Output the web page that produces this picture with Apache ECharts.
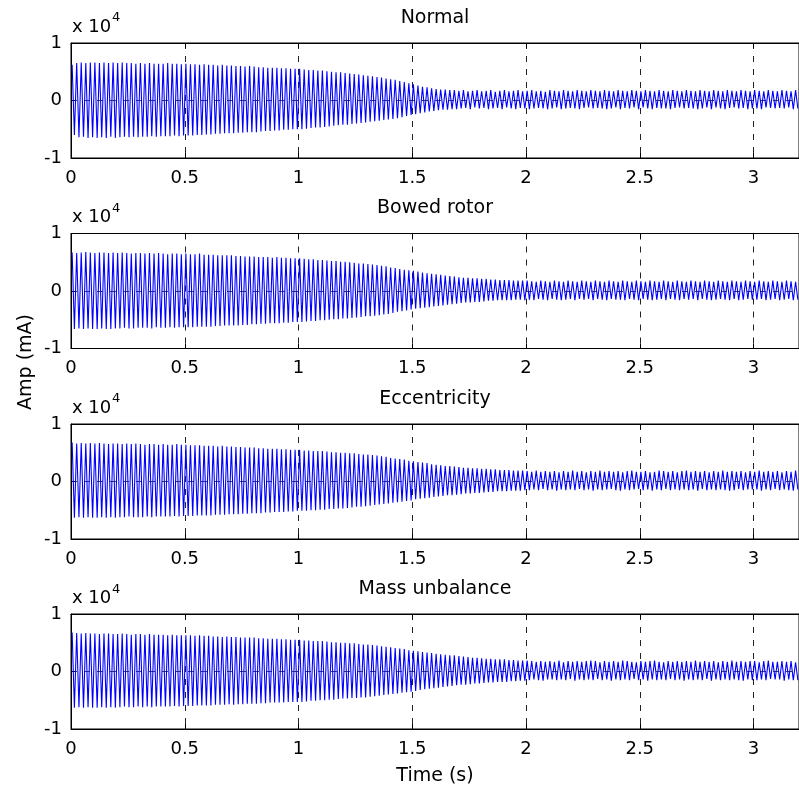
<!DOCTYPE html>
<html>
<head>
<meta charset="utf-8">
<script src="https://cdn.jsdelivr.net/npm/echarts@6/dist/echarts.min.js"></script>
<style>html,body{margin:0;padding:0;background:#fff;}#c{width:799px;height:794px;}</style>
</head>
<body>
<div id="c"></div>
<script>
// Panel titles and axes
const panelTitles = ['Normal', 'Bowed rotor', 'Eccentricity', 'Mass unbalance'];
const xTickLabels = [0, 0.5, 1, 1.5, 2, 2.5, 3];
const yTickLabels = [-1, 0, 1];
const sampleStep = 0.01; // seconds between successive (alternating) peaks
// Peak values, in units of 100 mA (i.e. 0.01 x 10^4 mA)
const normal = [
62,-60,65,-64,66,-63,65,-65,66,-64, 66,-65,65,-64,66,-65,65,-63,66,-65,
65,-64,66,-63,65,-64,65,-63,64,-64, 65,-63,64,-63,65,-62,64,-63,64,-62,
64,-62,65,-62,64,-61,64,-62,63,-61, 64,-61,63,-61,63,-60,62,-60,63,-59,
62,-59,62,-58,61,-58,62,-57,61,-57, 61,-57,60,-56,60,-56,59,-55,60,-55,
59,-55,58,-54,58,-53,57,-53,57,-52, 57,-52,56,-51,56,-51,55,-50,55,-50,
55,-50,54,-49,53,-48,53,-47,52,-47, 52,-46,51,-45,50,-44,49,-43,49,-42,
48,-42,47,-41,46,-40,45,-39,44,-38, 43,-37,42,-36,41,-35,40,-34,38,-33,
37,-32,36,-31,34,-29,32,-27,30,-25, 28,-24,26,-22,24,-21,23,-19,21,-18,
20,-17,19,-16,19,-16,18,-15,18,-15, 17,-14,18,-13,16,-15,17,-12,18,-14,
16,-13,17,-15,18,-14,15,-13,17,-15, 18,-12,16,-14,17,-15,18,-13,16,-14,
17,-15,18,-14,16,-13,17,-14,15,-15, 18,-14,17,-12,16,-15,18,-14,17,-13,
16,-14,18,-15,17,-13,16,-12,18,-14, 17,-13,16,-14,18,-15,17,-14,16,-12,
18,-15,17,-13,16,-14,18,-12,17,-15, 16,-12,18,-14,17,-15,16,-13,18,-14,
17,-14,16,-15,18,-13,17,-12,16,-14, 18,-13,17,-14,16,-15,18,-14,17,-12,
16,-15,18,-12,17,-14,16,-15,18,-13, 17,-12,16,-14,18,-13,17,-15,16,-14,
18,-14,17,-15,16,-12,18,-13,17,-14, 16,-13,18,-14,17,-12,16,-15,18,-14
];
const bowedRotor = [
67,-66,66,-65,67,-66,68,-65,67,-66, 66,-66,67,-65,67,-66,66,-66,67,-65,
66,-65,67,-64,66,-65,65,-65,66,-64, 66,-64,65,-64,66,-65,65,-63,66,-64,
65,-64,64,-63,65,-64,65,-63,64,-63, 65,-63,64,-63,64,-62,65,-62,63,-62,
63,-62,63,-61,62,-61,62,-60,62,-60, 62,-60,61,-60,61,-59,60,-59,60,-58,
60,-58,59,-57,59,-57,59,-56,58,-56, 59,-56,58,-55,58,-55,57,-54,57,-54,
57,-54,56,-53,55,-52,55,-52,54,-51, 54,-51,53,-50,52,-49,52,-49,51,-48,
51,-48,50,-47,49,-46,48,-45,48,-44, 47,-44,46,-43,45,-42,44,-41,43,-40,
41,-38,40,-36,38,-35,37,-34,36,-32, 35,-31,34,-30,32,-29,31,-28,30,-27,
29,-26,28,-25,27,-24,26,-23,25,-22, 24,-21,23,-20,23,-20,22,-19,22,-19,
21,-18,21,-17,20,-17,20,-16,19,-16, 19,-16,19,-16,18,-15,18,-15,18,-16,
18,-15,17,-16,16,-14,18,-15,17,-16, 16,-14,18,-15,17,-16,16,-15,18,-14,
17,-16,16,-14,18,-15,17,-14,16,-16, 18,-14,17,-15,16,-16,18,-14,17,-15,
16,-15,18,-16,17,-14,16,-15,18,-16, 17,-14,16,-15,18,-16,17,-15,16,-14,
18,-16,17,-14,16,-15,18,-16,17,-14, 16,-15,18,-14,17,-16,16,-14,18,-15,
17,-16,16,-15,18,-14,17,-15,16,-16, 18,-14,17,-16,16,-15,18,-14,17,-15,
16,-15,18,-14,17,-16,16,-15,18,-14, 17,-16,16,-15,18,-14,17,-16,16,-15
];
const eccentricity = [
68,-63,66,-62,67,-63,66,-62,67,-63, 66,-63,67,-62,66,-63,65,-62,66,-63,
66,-62,65,-62,66,-61,65,-62,66,-62, 65,-62,64,-61,65,-62,65,-61,64,-61,
65,-61,64,-61,64,-60,65,-61,64,-60, 64,-60,63,-60,63,-59,63,-59,62,-59,
62,-59,62,-58,61,-58,62,-58,61,-57, 61,-57,60,-57,60,-56,59,-56,59,-55,
59,-55,58,-55,58,-54,57,-54,57,-53, 57,-53,56,-53,56,-52,55,-52,55,-51,
55,-51,54,-51,54,-50,53,-50,53,-49, 53,-49,52,-48,51,-48,51,-47,50,-47,
50,-46,49,-45,49,-44,48,-44,47,-43, 47,-42,46,-41,45,-40,44,-39,43,-38,
41,-37,40,-36,39,-35,38,-34,36,-33, 35,-31,34,-30,33,-29,32,-28,30,-27,
29,-26,28,-25,27,-24,27,-24,26,-23, 25,-22,24,-21,24,-21,23,-20,23,-20,
22,-19,22,-18,21,-18,21,-17,20,-17, 20,-17,20,-16,19,-16,19,-16,19,-15,
18,-15,17,-14,19,-15,17,-13,18,-15, 17,-14,18,-16,16,-14,18,-15,17,-14,
19,-15,17,-13,18,-15,16,-14,18,-16, 17,-14,19,-15,17,-14,18,-13,17,-15,
18,-16,16,-14,18,-15,19,-14,17,-13, 17,-15,18,-14,16,-16,17,-14,19,-15,
18,-13,17,-15,18,-14,16,-15,18,-14, 19,-15,17,-14,18,-16,17,-13,18,-15,
16,-14,18,-15,17,-14,19,-15,17,-16, 18,-15,17,-13,18,-15,16,-14,18,-14,
17,-14,19,-16,17,-14,18,-15,17,-13, 18,-15,16,-14,18,-15,17,-16,19,-14
];
const massUnbalance = [
68,-63,67,-62,66,-63,67,-62,66,-63, 66,-63,65,-62,66,-63,66,-62,65,-63,
65,-62,66,-61,65,-62,64,-62,65,-61, 65,-62,64,-61,65,-62,64,-61,64,-61,
64,-61,63,-61,64,-60,63,-61,63,-60, 63,-60,63,-60,62,-59,63,-59,62,-59,
62,-59,61,-58,61,-58,60,-58,61,-57, 60,-58,60,-57,59,-57,59,-56,59,-56,
59,-56,58,-55,58,-55,57,-54,57,-54, 57,-54,56,-54,56,-53,55,-53,55,-53,
55,-53,54,-52,54,-51,53,-51,53,-50, 53,-50,52,-49,51,-49,51,-48,50,-47,
50,-47,49,-46,49,-46,48,-45,47,-45, 47,-44,46,-43,45,-42,44,-41,43,-40,
42,-39,41,-38,40,-37,39,-36,37,-35, 36,-34,35,-32,34,-31,33,-30,32,-29,
31,-28,30,-27,29,-26,28,-25,28,-24, 27,-23,26,-23,25,-22,24,-21,24,-21,
23,-20,22,-19,22,-19,21,-18,21,-18, 21,-18,20,-17,20,-17,19,-16,19,-16,
19,-15,18,-14,17,-15,18,-16,17,-14, 18,-14,17,-15,19,-14,16,-15,18,-13,
17,-16,18,-14,17,-15,18,-14,19,-15, 18,-13,16,-15,18,-14,17,-16,18,-14,
17,-15,19,-14,18,-15,17,-13,16,-15, 18,-14,17,-16,18,-14,19,-15,17,-14,
16,-15,18,-13,17,-15,18,-14,17,-16, 18,-14,17,-15,19,-14,17,-15,18,-13,
17,-16,18,-14,16,-15,18,-14,17,-15, 19,-14,17,-15,18,-16,17,-14,18,-15,
18,-15,16,-14,18,-15,19,-13,17,-14, 17,-14,18,-16,17,-14,18,-15,16,-15
];
const seriesValues = [normal, bowedRotor, eccentricity, massUnbalance];

const FONT = 'DejaVu Sans';
const tops = [43, 233.5, 424, 614];
const gridH = 115;
const gridL = 71;
const gridW = 736; // axis spans 0..3.2 s, right part runs off the canvas

const grids = [], xAxes = [], yAxes = [], series = [], graphics = [];
tops.forEach((top, i) => {
  grids.push({left: gridL, top: top, width: gridW, height: gridH, show: true,
    borderColor: '#000', borderWidth: 1, backgroundColor: 'transparent'});
  xAxes.push({
    type: 'value', gridIndex: i, min: 0, max: 3.2, interval: 0.5,
    axisLine: {show: true, onZero: false, lineStyle: {color: '#000', width: 1}},
    axisTick: {show: true, inside: true, length: 5, lineStyle: {color: '#000'}},
    axisLabel: {show: true, margin: 11, color: '#000', fontFamily: FONT, fontSize: 18,
      showMaxLabel: false,
      formatter: v => (xTickLabels.some(t => Math.abs(t - v) < 1e-9) ? String(v) : '')},
    splitLine: {show: true, lineStyle: {color: '#222', type: [6, 7], width: 1}}
  });
  xAxes.push({
    type: 'value', gridIndex: i, min: 0, max: 3.2, interval: 0.5, position: 'top',
    axisLine: {show: true, onZero: false, lineStyle: {color: '#000', width: 1}},
    axisTick: {show: true, inside: true, length: 5, lineStyle: {color: '#000'}},
    axisLabel: {show: false}, splitLine: {show: false}
  });
  yAxes.push({
    type: 'value', gridIndex: i, min: -1, max: 1, interval: 1,
    axisLine: {show: true, onZero: false, lineStyle: {color: '#000', width: 1}},
    axisTick: {show: true, inside: true, length: 5, lineStyle: {color: '#000'}},
    axisLabel: {show: true, margin: 9, color: '#000', fontFamily: FONT, fontSize: 18,
      formatter: v => (yTickLabels.indexOf(v) >= 0 ? String(v) : '')},
    splitLine: {show: true, lineStyle: {color: '#444', type: [6, 7], width: 1}}
  });
  series.push({
    type: 'line', xAxisIndex: 2 * i, yAxisIndex: i,
    data: seriesValues[i].map((v, k) => [(k + 0.5) * sampleStep, v / 100]),
    showSymbol: false, symbol: 'none', sampling: null,
    lineStyle: {color: '#0000ff', width: 1.1}, itemStyle: {color: '#0000ff'},
    animation: false, clip: true, z: 3
  });
  const dy = 190.5 * i;
  graphics.push({type: 'text', x: 435, y: 18 + dy,
    style: {text: panelTitles[i], fontFamily: FONT, fontSize: 19, fill: '#000',
      textAlign: 'center', textVerticalAlign: 'middle'}});
  graphics.push({type: 'text', x: 72, y: 27 + dy,
    style: {text: 'x 10', fontFamily: FONT, fontSize: 18, fill: '#000',
      textAlign: 'left', textVerticalAlign: 'middle'}});
  graphics.push({type: 'text', x: 112, y: 18 + dy,
    style: {text: '4', fontFamily: FONT, fontSize: 13, fill: '#000',
      textAlign: 'left', textVerticalAlign: 'middle'}});
});
graphics.push({type: 'text', x: 435, y: 776,
  style: {text: 'Time (s)', fontFamily: FONT, fontSize: 19, fill: '#000',
    textAlign: 'center', textVerticalAlign: 'middle'}});
graphics.push({type: 'text', x: 26, y: 362, rotation: Math.PI / 2,
  style: {text: 'Amp (mA)', fontFamily: FONT, fontSize: 19, fill: '#000',
    textAlign: 'center', textVerticalAlign: 'middle'}});

const chart = echarts.init(document.getElementById('c'), null, {renderer: 'canvas'});
chart.setOption({
  animation: false,
  backgroundColor: '#fff',
  grid: grids, xAxis: xAxes, yAxis: yAxes, series: series,
  graphic: graphics
});
</script>
</body>
</html>
